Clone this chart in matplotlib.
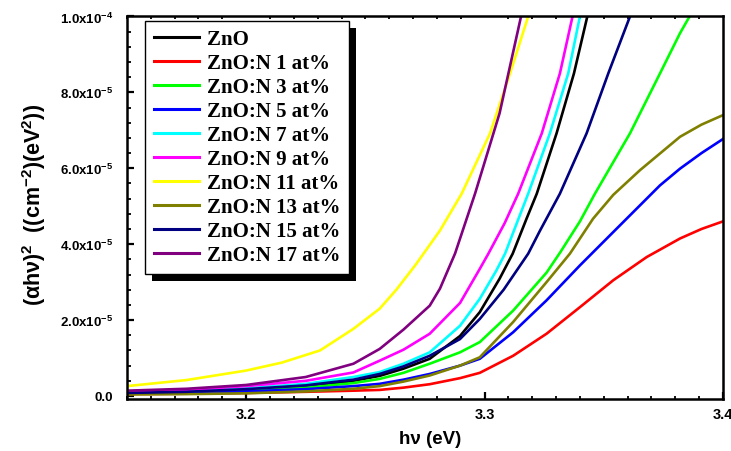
import matplotlib
matplotlib.use("Agg")
import numpy as np
import matplotlib.pyplot as plt
from matplotlib.ticker import MultipleLocator, FixedLocator, FuncFormatter
from matplotlib.patches import Rectangle
from matplotlib.transforms import IdentityTransform

plt.rcParams['font.family'] = 'Liberation Sans'
plt.rcParams['font.weight'] = 'bold'
plt.rcParams['mathtext.fontset'] = 'custom'
plt.rcParams['mathtext.rm'] = 'Liberation Sans:bold'
plt.rcParams['mathtext.it'] = 'Liberation Sans:bold'
plt.rcParams['mathtext.bf'] = 'Liberation Sans:bold'

# (alpha*h*nu)^2 values are listed in units of 1e-5
UNIT = 1e-5

labels = ["ZnO", "ZnO:N 1 at%", "ZnO:N 3 at%", "ZnO:N 5 at%", "ZnO:N 7 at%",
          "ZnO:N 9 at%", "ZnO:N 11 at%", "ZnO:N 13 at%", "ZnO:N 15 at%", "ZnO:N 17 at%"]
colors = ["#000000", "#FF0000", "#00FF00", "#0000FF", "#00FFFF",
          "#FF00FF", "#FFFF00", "#808000", "#000080", "#800080"]

x_zno = [3.150, 3.175, 3.200, 3.225, 3.245, 3.256, 3.266, 3.277, 3.2897, 3.298,
         3.3063, 3.3118, 3.3176, 3.3219, 3.3302, 3.3375, 3.3431]
y_zno = [0.07, 0.10, 0.15, 0.24, 0.40, 0.53, 0.72, 0.98, 1.58, 2.21,
         3.09, 3.75, 4.67, 5.33, 6.92, 8.50, 10.0]

x_n1 = [3.150, 3.175, 3.200, 3.225, 3.245, 3.256, 3.266, 3.277, 3.2897, 3.298,
        3.312, 3.326, 3.340, 3.354, 3.368, 3.382, 3.391, 3.400]
y_n1 = [0.05, 0.06, 0.08, 0.11, 0.14, 0.16, 0.22, 0.31, 0.47, 0.61,
        1.06, 1.64, 2.34, 3.05, 3.66, 4.15, 4.40, 4.60]

x_n3 = [3.150, 3.175, 3.200, 3.225, 3.245, 3.256, 3.266, 3.277, 3.2897, 3.298,
        3.312, 3.326, 3.3319, 3.340, 3.3463, 3.361, 3.3736, 3.382, 3.386]
y_n3 = [0.07, 0.09, 0.14, 0.22, 0.34, 0.45, 0.61, 0.85, 1.15, 1.42,
        2.25, 3.25, 3.80, 4.60, 5.33, 6.92, 8.50, 9.56, 10.0]

x_n5 = [3.150, 3.175, 3.200, 3.225, 3.245, 3.256, 3.266, 3.277, 3.2897, 3.298,
        3.312, 3.326, 3.340, 3.354, 3.3736, 3.382, 3.391, 3.400]
y_n5 = [0.06, 0.08, 0.12, 0.18, 0.26, 0.32, 0.43, 0.58, 0.80, 0.98,
        1.68, 2.52, 3.44, 4.32, 5.55, 5.99, 6.40, 6.77]

x_n7 = [3.150, 3.175, 3.200, 3.225, 3.245, 3.256, 3.266, 3.277, 3.2897, 3.298,
        3.3049, 3.3086, 3.3135, 3.3183, 3.3274, 3.3351, 3.340]
y_n7 = [0.08, 0.12, 0.20, 0.32, 0.50, 0.63, 0.85, 1.15, 1.85, 2.56,
        3.30, 3.75, 4.55, 5.33, 6.92, 8.50, 10.0]

x_n9 = [3.150, 3.175, 3.200, 3.225, 3.245, 3.256, 3.266, 3.277, 3.2897, 3.298,
        3.3016, 3.3084, 3.3141, 3.324, 3.3316, 3.3369]
y_n9 = [0.10, 0.16, 0.26, 0.40, 0.62, 0.93, 1.22, 1.64, 2.45, 3.35,
        3.75, 4.55, 5.33, 6.92, 8.50, 10.0]

x_n11 = [3.150, 3.175, 3.200, 3.215, 3.231, 3.245, 3.256, 3.263, 3.271, 3.2813,
         3.2904, 3.3023, 3.3107, 3.3183]
y_n11 = [0.26, 0.42, 0.67, 0.88, 1.20, 1.77, 2.30, 2.80, 3.45, 4.36,
         5.33, 6.92, 8.50, 10.0]

x_n13 = [3.150, 3.175, 3.200, 3.225, 3.245, 3.256, 3.266, 3.277, 3.2897, 3.298,
         3.312, 3.326, 3.3358, 3.3455, 3.354, 3.3652, 3.3736, 3.382, 3.391, 3.400]
y_n13 = [0.04, 0.05, 0.07, 0.12, 0.19, 0.26, 0.38, 0.54, 0.80, 1.02,
         1.95, 3.00, 3.75, 4.67, 5.30, 5.95, 6.39, 6.83, 7.15, 7.40]

x_n15 = [3.150, 3.175, 3.200, 3.225, 3.245, 3.256, 3.266, 3.277, 3.2897, 3.298,
         3.308, 3.3183, 3.3232, 3.3316, 3.3428, 3.3519, 3.361]
y_n15 = [0.08, 0.11, 0.18, 0.28, 0.43, 0.58, 0.78, 1.06, 1.50, 2.03,
         2.80, 3.75, 4.35, 5.33, 6.92, 8.50, 10.0]

x_n17 = [3.150, 3.175, 3.200, 3.225, 3.245, 3.256, 3.266, 3.277, 3.2813, 3.2876,
         3.296, 3.3063, 3.3153]
y_n17 = [0.14, 0.19, 0.29, 0.50, 0.85, 1.24, 1.75, 2.38, 2.83, 3.75,
         5.33, 7.45, 10.0]

series_x = [x_zno, x_n1, x_n3, x_n5, x_n7, x_n9, x_n11, x_n13, x_n15, x_n17]
series_y = [y_zno, y_n1, y_n3, y_n5, y_n7, y_n9, y_n11, y_n13, y_n15, y_n17]

fig = plt.figure(figsize=(7.31, 4.52), dpi=100)
ax = fig.add_axes([0.1737, 0.115, 0.8153, 0.8464])

for xs, ys, c, lab in zip(series_x, series_y, colors, labels):
    ax.plot(xs, np.array(ys) * UNIT, color=c, lw=1.9, label=lab, zorder=2)

ax.set_xlim(3.15, 3.40)
ax.set_ylim(-0.08e-5, 1.0e-4)

ax.xaxis.set_major_locator(FixedLocator([3.2, 3.3, 3.4]))
ax.xaxis.set_minor_locator(MultipleLocator(0.01))
ax.yaxis.set_major_locator(MultipleLocator(2e-5))
ax.yaxis.set_minor_locator(MultipleLocator(0.4e-5))


def sci_label(v, pos):
    if abs(v) < 1e-12:
        return "0.0"
    exp = int(np.floor(np.log10(abs(v)) + 1e-9))
    mant = v / 10 ** exp
    return f"{mant:.1f}x10$^{{{exp}}}$"


ax.yaxis.set_major_formatter(FuncFormatter(sci_label))
ax.xaxis.set_major_formatter(FuncFormatter(lambda v, p: f"{v:.1f}"))

ax.tick_params(axis='x', which='major', direction='in', length=5, width=1.6,
               labelsize=10.5, pad=6)
ax.tick_params(axis='x', which='minor', direction='out', length=2.5, width=1.3)
ax.tick_params(axis='x', which='minor', top=True, direction='in', length=2.0)
ax.tick_params(axis='y', which='major', direction='in', length=5, width=1.6,
               labelsize=9.5, pad=10)
ax.tick_params(axis='y', which='minor', direction='in', length=3, width=1.3)

for s in ax.spines.values():
    s.set_linewidth(1.8)

ax.set_xlabel("hν (eV)", fontsize=13.5, fontweight='bold')
ax.xaxis.set_label_coords(0.508, -0.082)
ax.set_ylabel("(αhν)$^{2}$  ((cm$^{-2}$)(eV$^{2}$))", fontsize=15.5, fontweight='bold')
ax.yaxis.set_label_coords(-0.132, 0.51)

leg = ax.legend(loc='upper left', bbox_to_anchor=(0.030, 0.989),
                prop={'family': 'Liberation Serif', 'weight': 'bold', 'size': 15},
                frameon=True, fancybox=False, edgecolor='black', framealpha=1,
                handlelength=2.2, handletextpad=0.35, labelspacing=0.19,
                borderpad=0.42, borderaxespad=0)
leg.get_frame().set_linewidth(1.0)
leg.set_zorder(5)
for h in leg.get_lines():
    h.set_linewidth(2.2)

# solid drop shadow behind the legend box
fig.canvas.draw()
bb = leg.get_window_extent()
shadow = Rectangle((bb.x0 + 7, bb.y0 - 7), bb.width, bb.height,
                   transform=IdentityTransform(), facecolor='black',
                   edgecolor='none', zorder=4.9, clip_on=False)
ax.add_patch(shadow)

fig.savefig("out.png", dpi=100)
